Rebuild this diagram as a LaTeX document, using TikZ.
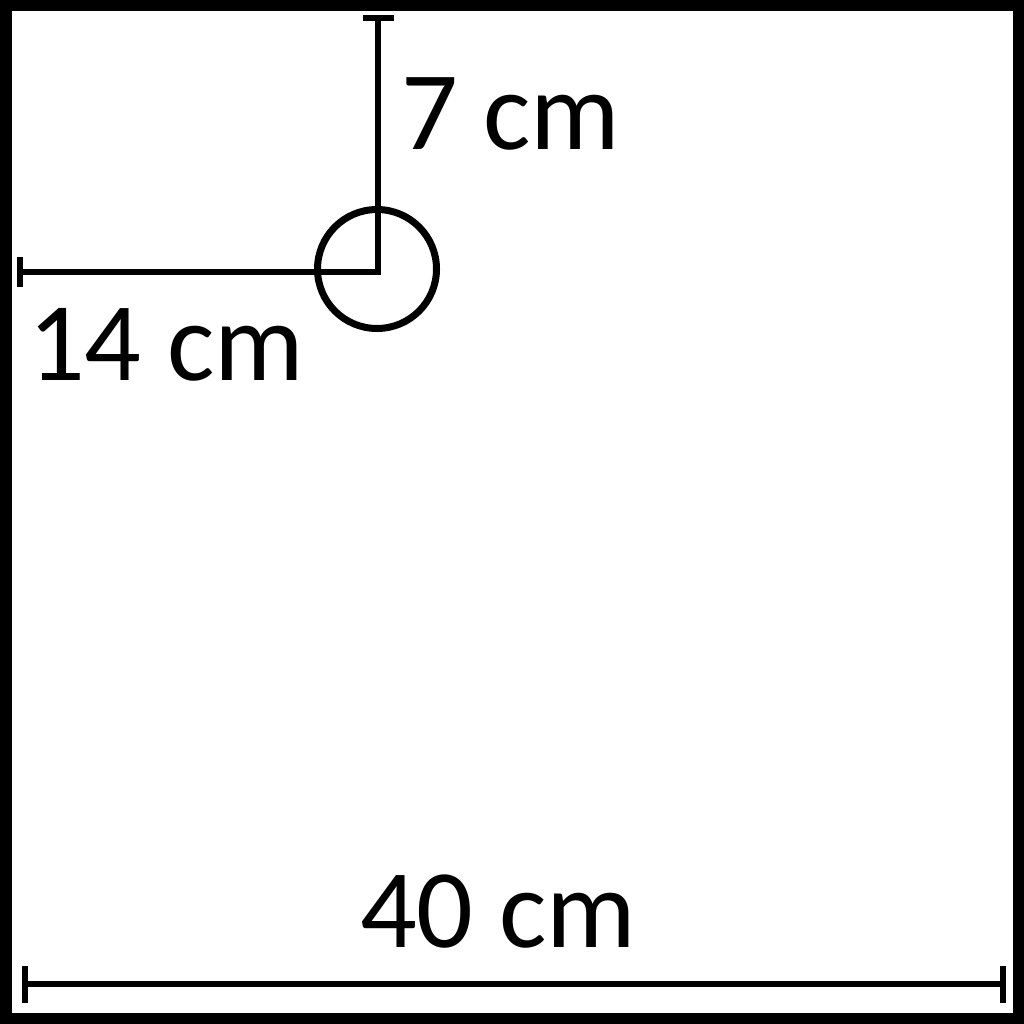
\documentclass[tikz,border=0pt]{standalone}
\usepackage{fontspec}
\setmainfont{Carlito}
\begin{document}
\begin{tikzpicture}[x=1pt,y=-1pt,
  frame/.style={line width=11.5pt},
  dim/.style={line width=6pt},
  ring/.style={circle,draw,line width=7pt,minimum size=119pt,inner sep=0pt},
  lbl/.style={anchor=base west,inner sep=0pt,font=\fontsize{112}{112}\selectfont}]
\useasboundingbox (0,0) rectangle (1024,1024);
\fill[white] (0,0) rectangle (1024,1024);
\draw[frame] (5.75,5.75) rectangle (1018.25,1018.25);
% circle
\node[ring] (c) at (377,269) {};
\coordinate (corner) at (378,272);
\coordinate (top) at (378,18);
\coordinate (left) at (20,272);
\coordinate (bl) at (25,984);
\coordinate (br) at (1003,984);
% dimension lines
\draw[dim] (top) -- (378,275);
\draw[dim] (left) -- (corner);
\draw[dim] (bl) -- (br);
% ticks
\draw[dim] ([xshift=-15.5pt]top) -- ([xshift=15.5pt]top);
\draw[dim] ([yshift=-15pt]left) -- ([yshift=15pt]left);
\draw[dim] ([yshift=-19pt]bl) -- ([yshift=18pt]bl);
\draw[dim] ([yshift=-19pt]br) -- ([yshift=18pt]br);
% labels
\node[lbl] (t7) at (401,150) {7 cm};
\node[lbl] (t14) at (28,380) {14 cm};
\node[lbl] (t40) at (360,947) {40 cm};
\end{tikzpicture}
\end{document}
